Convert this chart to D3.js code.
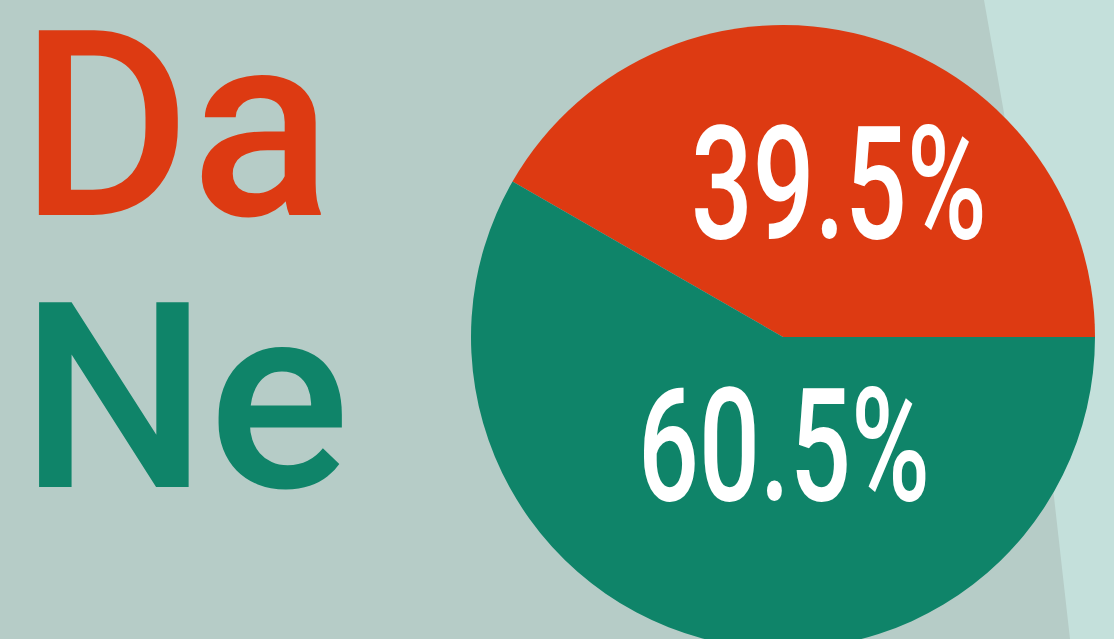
<!DOCTYPE html>
<html>
<head>
<meta charset="utf-8">
<script src="https://cdn.jsdelivr.net/npm/d3@7"></script>
<style>
  html, body { margin: 0; padding: 0; background: #b6ccc7; overflow: hidden; }
  svg { display: block; }
</style>
</head>
<body>
<div class="chart"></div>
<script>
// Answer categories and shares
const categories = ["Da", "Ne"];
const shareLabels = ["39.5%", "60.5%"];
// slice sizes as drawn in the picture (red edge sits ~150 deg from east)
const sliceValues = [41.7, 58.3];
const colors = ["#dd3a12", "#0f8469"];

const W = 1114, H = 639;
const cx = 783, cy = 337, radius = 312;

const svg = d3.select(".chart")
    .append("svg")
    .attr("width", W)
    .attr("height", H);

// background, with the lighter band on the right
svg.append("rect")
    .attr("width", W)
    .attr("height", H)
    .attr("fill", "#b6ccc7");

const band = d3.line().curve(d3.curveLinear);
svg.append("path")
    .attr("d", band([[984, 0], [1004, 113], [1054, 497], [1070, 639], [W, H], [W, 0]]) + "Z")
    .attr("fill", "#c4e0db");

// pie
const startA = -60.1 * Math.PI / 180;
const pie = d3.pie()
    .sort(null)
    .startAngle(startA)
    .endAngle(startA + 2 * Math.PI);

const arc = d3.arc().innerRadius(0).outerRadius(radius);

const g = svg.append("g").attr("transform", `translate(${cx},${cy})`);

g.selectAll(".slice")
    .data(pie(sliceValues))
    .enter()
    .append("path")
    .attr("class", "slice")
    .attr("d", arc)
    .attr("fill", (d, i) => colors[i]);

// percent labels (offsets from pie centre)
const labelPos = [[56, -99], [1, 163]];
const labelWidth = [296, 292];
g.selectAll(".pct")
    .data(shareLabels)
    .enter()
    .append("text")
    .attr("class", "pct")
    .attr("x", (d, i) => labelPos[i][0])
    .attr("y", (d, i) => labelPos[i][1])
    .attr("text-anchor", "middle")
    .attr("font-family", "Roboto, 'DejaVu Sans', sans-serif")
    .attr("font-weight", 500)
    .attr("font-size", 157)
    .attr("fill", "#ffffff")
    .attr("textLength", (d, i) => labelWidth[i])
    .attr("lengthAdjust", "spacingAndGlyphs")
    .text(d => d);

// big category words on the left
const wordY = [215, 487];
const wordWidth = [312, 330];
svg.selectAll(".word")
    .data(categories)
    .enter()
    .append("text")
    .attr("class", "word")
    .attr("x", 20)
    .attr("y", (d, i) => wordY[i])
    .attr("font-family", "Roboto, 'DejaVu Sans', sans-serif")
    .attr("font-weight", 500)
    .attr("font-size", 260)
    .attr("fill", (d, i) => colors[i])
    .attr("textLength", (d, i) => wordWidth[i])
    .attr("lengthAdjust", "spacingAndGlyphs")
    .text(d => d);
</script>
</body>
</html>
